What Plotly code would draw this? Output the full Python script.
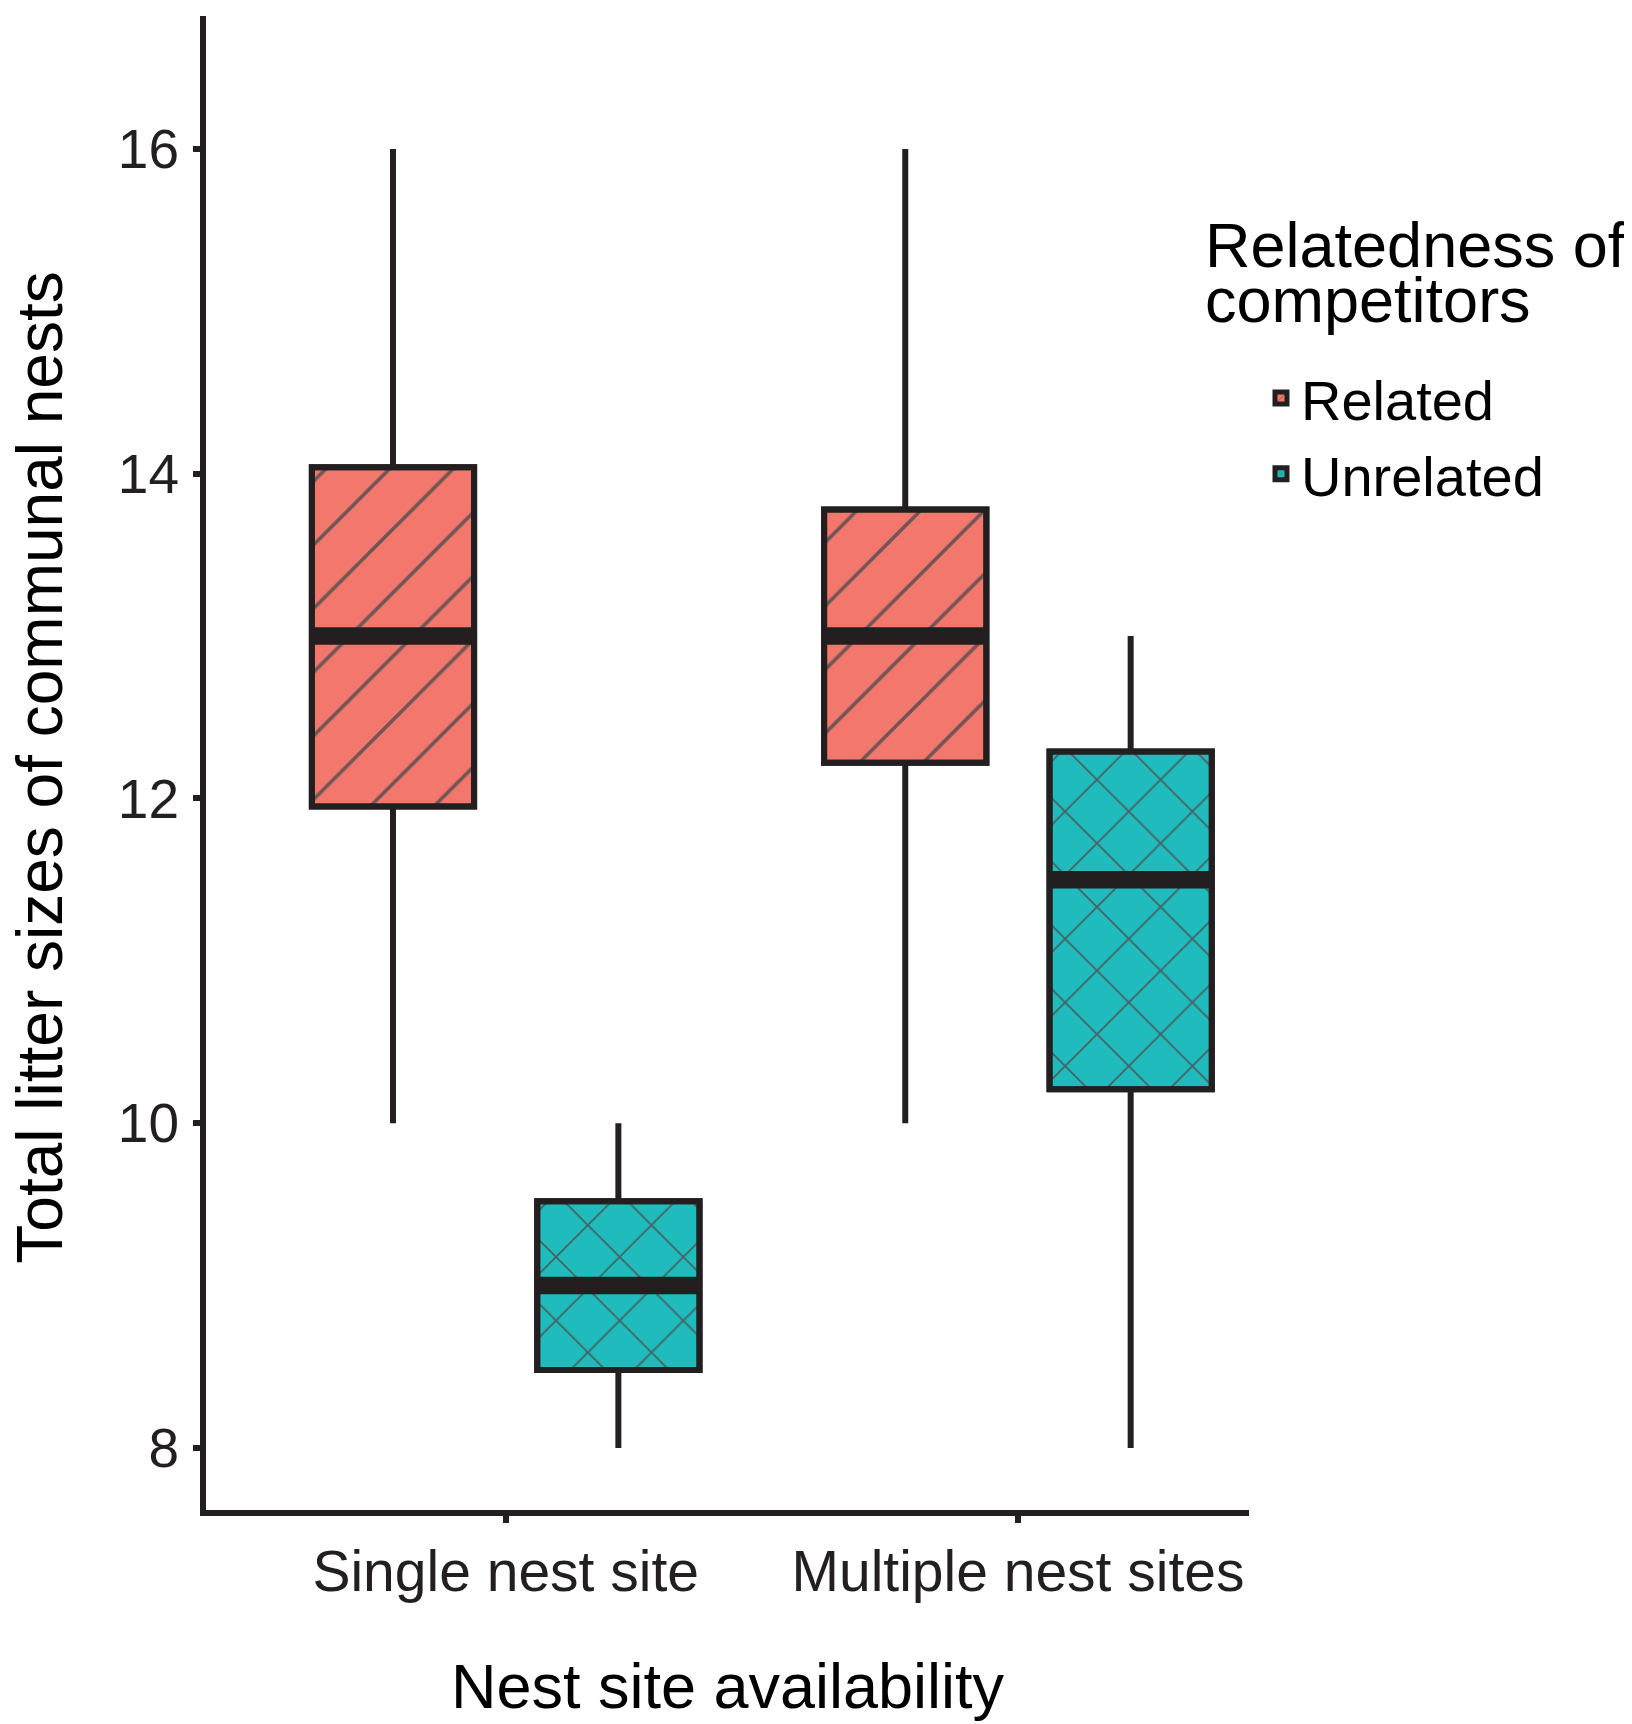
import plotly.graph_objects as go

# ---- data ----
categories = ["Single nest site", "Multiple nest sites"]
groups = ["Related", "Unrelated"]

related_lower = [10.0, 10.0]
related_q1 = [11.95, 12.22]
related_median = [13.0, 13.0]
related_q3 = [14.04, 13.78]
related_upper = [16.0, 16.0]

unrelated_lower = [8.0, 8.0]
unrelated_q1 = [8.48, 10.21]
unrelated_median = [9.0, 11.5]
unrelated_q3 = [9.52, 12.29]
unrelated_upper = [10.0, 13.0]

y_ticks = [8, 10, 12, 14, 16]

# ---- styles ----
LINE = "#231F20"
FILLS = {"Related": "#F3776C", "Unrelated": "#20BBBD"}
PATTERNS = {"Related": "/", "Unrelated": "x"}
MEDIAN_THICK = 0.108  # median band thickness in data units
FONT = "Liberation Sans, Arial, sans-serif"

stats = {
    "Related": (related_lower, related_q1, related_median, related_q3, related_upper),
    "Unrelated": (unrelated_lower, unrelated_q1, unrelated_median, unrelated_q3, unrelated_upper),
}

fig = go.Figure()

# patterned boxes (bars from q1 to q3)
for g in groups:
    lo, q1, med, q3, up = stats[g]
    fig.add_trace(go.Bar(
        x=categories, y=[b - a for a, b in zip(q1, q3)], base=q1,
        name=g, offsetgroup=g, legendgroup=g,
        marker=dict(color=FILLS[g], line=dict(color=LINE, width=6),
                    pattern=dict(shape=PATTERNS[g], size=45, solidity=0.08,
                                 fgcolor="#4d4d4d", fgopacity=0.8, fillmode="overlay")),
        hoverinfo="skip",
    ))

# thick median bands
for g in groups:
    lo, q1, med, q3, up = stats[g]
    fig.add_trace(go.Bar(
        x=categories, y=[MEDIAN_THICK] * len(med), base=[m - MEDIAN_THICK / 2 for m in med],
        offsetgroup=g, legendgroup=g, showlegend=False,
        marker=dict(color=LINE, line=dict(width=0)),
        hoverinfo="skip",
    ))

# whiskers + outline
for g in groups:
    lo, q1, med, q3, up = stats[g]
    fig.add_trace(go.Box(
        x=categories, q1=q1, median=med, q3=q3, lowerfence=lo, upperfence=up,
        name=g, offsetgroup=g, legendgroup=g, showlegend=False,
        fillcolor="rgba(0,0,0,0)", line=dict(color=LINE, width=6),
        whiskerwidth=0, boxpoints=False, hoverinfo="skip",
    ))

fig.update_layout(
    width=1624, height=1716,
    margin=dict(l=198, r=383, t=8, b=214, autoexpand=False),
    paper_bgcolor="white", plot_bgcolor="white",
    barmode="group", bargap=0.12, bargroupgap=0.28,
    boxmode="group", boxgap=0.12, boxgroupgap=0.28,
    font=dict(family=FONT, color=LINE),
    showlegend=True,
    legend=dict(x=1.0115, y=0.773, xanchor="left", yanchor="top",
                font=dict(size=56, color="black", family=FONT),
                bgcolor="rgba(0,0,0,0)", traceorder="normal"),
    annotations=[
        dict(text="Relatedness of", xref="paper", yref="paper", x=0.956, y=0.847,
             xanchor="left", yanchor="middle", showarrow=False,
             font=dict(size=63, color="black", family=FONT)),
        dict(text="competitors", xref="paper", yref="paper", x=0.956, y=0.8096,
             xanchor="left", yanchor="middle", showarrow=False,
             font=dict(size=63, color="black", family=FONT)),
        dict(text="Total litter sizes of communal nests", xref="paper", yref="paper",
             x=-0.159, y=0.497, xanchor="center", yanchor="middle", textangle=-90,
             showarrow=False, font=dict(size=64, color="black", family=FONT)),
    ],
)

fig.update_xaxes(
    type="category", range=[-0.585, 1.451], automargin=False,
    showline=True, linecolor=LINE, linewidth=6,
    ticks="outside", ticklen=7, tickwidth=6, tickcolor=LINE,
    tickfont=dict(size=57, color=LINE, family=FONT),
    showgrid=False, zeroline=False,
    title=dict(text="Nest site availability", font=dict(size=63, color="black", family=FONT), standoff=63),
)
fig.update_yaxes(
    range=[7.618, 16.819], tickvals=y_ticks, ticktext=[str(t) for t in y_ticks], automargin=False,
    showline=True, linecolor=LINE, linewidth=6,
    ticks="outside", ticklen=7, tickwidth=6, tickcolor=LINE,
    tickfont=dict(size=55, color=LINE, family=FONT), ticklabelstandoff=3,
    showgrid=False, zeroline=False,
)

fig.write_html("out.html")
